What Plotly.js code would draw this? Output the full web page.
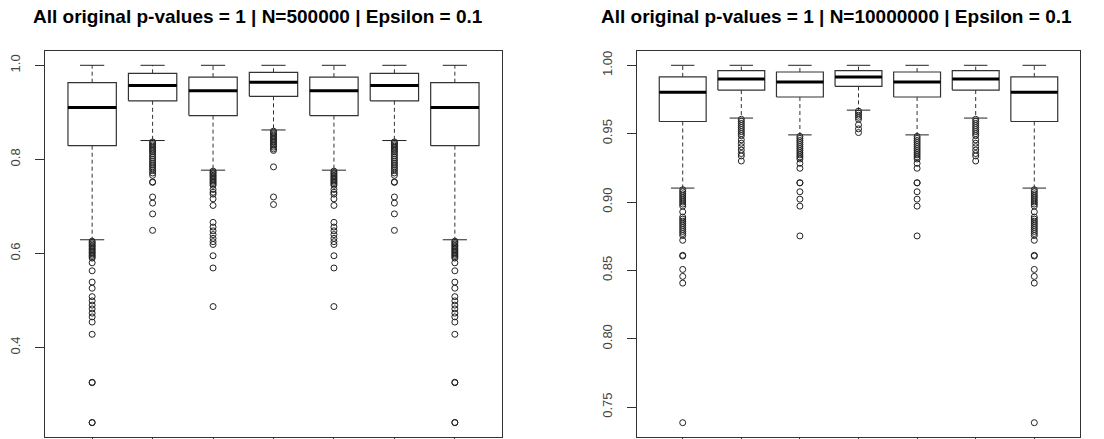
<!DOCTYPE html>
<html>
<head>
<meta charset="utf-8">
<script src="https://cdn.plot.ly/plotly-3.0.1.min.js"></script>
<style>
  html, body { margin: 0; padding: 0; background: #fff; }
  #chart { width: 1104px; height: 439px; }
</style>
</head>
<body>
<div id="chart"></div>
<script>
// Group positions along the x axis (seven groups per panel)
const positions = [1, 2, 3, 4, 5, 6, 7];

// ---- Panel A: N = 500000 ----
const titleA = "All original p-values = 1 | N=500000 | Epsilon = 0.1";
const upperA  = [1.000, 1.000, 1.000, 1.000, 1.000, 1.000, 1.000];
const q3A     = [0.963, 0.983, 0.975, 0.985, 0.975, 0.983, 0.963];
const medianA = [0.910, 0.957, 0.946, 0.964, 0.946, 0.957, 0.910];
const q1A     = [0.829, 0.9245, 0.893, 0.934, 0.893, 0.9245, 0.829];
const lowerA  = [0.629, 0.840, 0.777, 0.8625, 0.777, 0.840, 0.629];

const outA1 = [0.626, 0.623, 0.620, 0.617, 0.614, 0.611, 0.608, 0.605, 0.602, 0.599,
               0.596, 0.593, 0.590, 0.580, 0.563, 0.539, 0.526, 0.508, 0.499, 0.490,
               0.482, 0.473, 0.465, 0.454, 0.428, 0.326, 0.325, 0.240, 0.2405];
const outA2 = [0.837, 0.834, 0.831, 0.828, 0.825, 0.822, 0.819, 0.816, 0.812, 0.808,
               0.804, 0.800, 0.796, 0.792, 0.788, 0.784, 0.780, 0.776, 0.771, 0.766,
               0.752, 0.751, 0.720, 0.707, 0.684, 0.649];
const outA3 = [0.775, 0.772, 0.769, 0.766, 0.763, 0.760, 0.757, 0.754, 0.751, 0.748,
               0.745, 0.736, 0.730, 0.726, 0.716, 0.702, 0.666, 0.656, 0.648, 0.640,
               0.632, 0.625, 0.619, 0.595, 0.569, 0.487];
const outA4 = [0.860, 0.857, 0.854, 0.851, 0.848, 0.845, 0.842, 0.839, 0.836, 0.833,
               0.830, 0.826, 0.822, 0.819, 0.784, 0.720, 0.704];
const outA5 = [0.775, 0.772, 0.769, 0.766, 0.763, 0.760, 0.757, 0.754, 0.751, 0.748,
               0.745, 0.736, 0.730, 0.726, 0.716, 0.702, 0.666, 0.656, 0.648, 0.640,
               0.632, 0.625, 0.619, 0.595, 0.569, 0.487];
const outA6 = [0.837, 0.834, 0.831, 0.828, 0.825, 0.822, 0.819, 0.816, 0.812, 0.808,
               0.804, 0.800, 0.796, 0.792, 0.788, 0.784, 0.780, 0.776, 0.771, 0.766,
               0.752, 0.751, 0.720, 0.707, 0.684, 0.649];
const outA7 = [0.626, 0.623, 0.620, 0.617, 0.614, 0.611, 0.608, 0.605, 0.602, 0.599,
               0.596, 0.593, 0.590, 0.580, 0.563, 0.539, 0.526, 0.508, 0.499, 0.490,
               0.482, 0.473, 0.465, 0.454, 0.428, 0.326, 0.325, 0.240, 0.2405];
const yTicksA = [0.4, 0.6, 0.8, 1.0];
const yTickTextA = ["0.4", "0.6", "0.8", "1.0"];

// ---- Panel B: N = 10000000 ----
const titleB = "All original p-values = 1 | N=10000000 | Epsilon = 0.1";
const upperB  = [1.000, 1.000, 1.000, 1.000, 1.000, 1.000, 1.000];
const q3B     = [0.9915, 0.9961, 0.9951, 0.9961, 0.9951, 0.9961, 0.9915];
const medianB = [0.9802, 0.9900, 0.9878, 0.9915, 0.9878, 0.9900, 0.9802];
const q1B     = [0.9589, 0.9819, 0.9768, 0.9846, 0.9768, 0.9819, 0.9589];
const lowerB  = [0.9102, 0.9614, 0.9491, 0.9672, 0.9491, 0.9614, 0.9102];

const outB1 = [0.909, 0.9075, 0.906, 0.9045, 0.903, 0.9015, 0.900, 0.8985, 0.897, 0.8928,
               0.889, 0.8875, 0.886, 0.8845, 0.883, 0.8815, 0.880, 0.8785, 0.877, 0.8755,
               0.872, 0.861, 0.8605, 0.8507, 0.8456, 0.8407, 0.7386];
const outB2 = [0.9605, 0.959, 0.9575, 0.956, 0.9545, 0.953, 0.9515, 0.950, 0.9485,
               0.9455, 0.943, 0.9405, 0.938, 0.9355, 0.9337, 0.930];
const outB3 = [0.948, 0.9465, 0.945, 0.9435, 0.942, 0.9405, 0.939, 0.9375, 0.936, 0.9345,
               0.933, 0.9315, 0.9283, 0.9247, 0.9141, 0.9140, 0.9075, 0.9021, 0.897, 0.8752];
const outB4 = [0.9665, 0.965, 0.9635, 0.962, 0.9605, 0.9565, 0.9535, 0.9508];
const outB5 = [0.948, 0.9465, 0.945, 0.9435, 0.942, 0.9405, 0.939, 0.9375, 0.936, 0.9345,
               0.933, 0.9315, 0.9283, 0.9247, 0.9141, 0.9140, 0.9075, 0.9021, 0.897, 0.8752];
const outB6 = [0.9605, 0.959, 0.9575, 0.956, 0.9545, 0.953, 0.9515, 0.950, 0.9485,
               0.9455, 0.943, 0.9405, 0.938, 0.9355, 0.9337, 0.930];
const outB7 = [0.909, 0.9075, 0.906, 0.9045, 0.903, 0.9015, 0.900, 0.8985, 0.897, 0.8928,
               0.889, 0.8875, 0.886, 0.8845, 0.883, 0.8815, 0.880, 0.8785, 0.877, 0.8755,
               0.872, 0.861, 0.8605, 0.8507, 0.8456, 0.8407, 0.7386];
const yTicksB = [0.75, 0.80, 0.85, 0.90, 0.95, 1.00];
const yTickTextB = ["0.75", "0.80", "0.85", "0.90", "0.95", "1.00"];

// Box geometry in axis units (box width 0.8, staple width 0.4)
const BOX_HALF = 0.4;
const STAPLE_HALF = 0.2;
const INK = "#222";

function boxplotTraces(stats, outliers, xa, ya) {
  const boxX = [], boxY = [], medX = [], medY = [];
  const whX = [], whY = [], stX = [], stY = [];
  const olX = [], olY = [];
  positions.forEach((p, i) => {
    const l = p - BOX_HALF, r = p + BOX_HALF;
    boxX.push(l, r, r, l, l, null);
    boxY.push(stats.q1[i], stats.q1[i], stats.q3[i], stats.q3[i], stats.q1[i], null);
    medX.push(l, r, null);
    medY.push(stats.median[i], stats.median[i], null);
    whX.push(p, p, null, p, p, null);
    whY.push(stats.q3[i], stats.upper[i], null, stats.q1[i], stats.lower[i], null);
    stX.push(p - STAPLE_HALF, p + STAPLE_HALF, null, p - STAPLE_HALF, p + STAPLE_HALF, null);
    stY.push(stats.upper[i], stats.upper[i], null, stats.lower[i], stats.lower[i], null);
    outliers[i].forEach(v => { olX.push(p); olY.push(v); });
  });
  const common = { xaxis: xa, yaxis: ya, showlegend: false, hoverinfo: "skip", type: "scatter" };
  return [
    Object.assign({ x: whX, y: whY, mode: "lines", line: { color: "#333", width: 1, dash: "4px,3px" } }, common),
    Object.assign({ x: stX, y: stY, mode: "lines", line: { color: INK, width: 1 } }, common),
    Object.assign({ x: boxX, y: boxY, mode: "lines", line: { color: "#333", width: 1.2 } }, common),
    Object.assign({ x: medX, y: medY, mode: "lines", line: { color: "#000", width: 3 } }, common),
    Object.assign({ x: olX, y: olY, mode: "markers",
      marker: { symbol: "circle-open", size: 6, color: INK, line: { width: 1 } } }, common)
  ];
}

const traces = [].concat(
  boxplotTraces({ upper: upperA, q3: q3A, median: medianA, q1: q1A, lower: lowerA },
                [outA1, outA2, outA3, outA4, outA5, outA6, outA7], "x", "y"),
  boxplotTraces({ upper: upperB, q3: q3B, median: medianB, q1: q1B, lower: lowerB },
                [outB1, outB2, outB3, outB4, outB5, outB6, outB7], "x2", "y2")
);

// Axis ranges padded 4% beyond the data, as in base graphics
function padRange(lo, hi) { const d = (hi - lo) * 0.04; return [lo - d, hi + d]; }
const allA = [].concat(outA1, outA2, outA3, outA4, outA5, outA6, outA7, upperA);
const allB = [].concat(outB1, outB2, outB3, outB4, outB5, outB6, outB7, upperB);
const yRangeA = padRange(Math.min(...allA), Math.max(...allA));
const yRangeB = padRange(Math.min(...allB), Math.max(...allB));
const xRange = padRange(0.5, positions.length + 0.5);

const W = 1104, H = 439;
const plotTop = 51, plotBottom = 437;
const yDomain = [1 - plotBottom / H, 1 - plotTop / H];

const xBase = {
  range: xRange, tickvals: positions, showticklabels: false, ticks: "outside",
  ticklen: 9, tickwidth: 1, tickcolor: "#333", showgrid: false, zeroline: false,
  showline: true, mirror: true, linecolor: "#333", linewidth: 1, fixedrange: true
};
const yBase = {
  ticks: "outside", ticklen: 9, tickwidth: 1, tickcolor: "#333", tickangle: -90,
  tickfont: { family: "Liberation Sans, Arial, sans-serif", size: 13, color: "#444" },
  showgrid: false, zeroline: false, showline: true, mirror: true,
  linecolor: "#333", linewidth: 1, automargin: false, ticklabelstandoff: 10, fixedrange: true
};

const titleFont = { family: "Liberation Sans, Arial, sans-serif", size: 19, color: "#000", weight: "bold" };

const layout = {
  width: W, height: H,
  margin: { l: 0, r: 0, t: 0, b: 0 },
  paper_bgcolor: "#fff", plot_bgcolor: "#fff",
  showlegend: false,
  xaxis: Object.assign({}, xBase, { domain: [45 / W, 502 / W], anchor: "y" }),
  yaxis: Object.assign({}, yBase, { domain: yDomain, range: yRangeA, tickvals: yTicksA, ticktext: yTickTextA, anchor: "x" }),
  xaxis2: Object.assign({}, xBase, { domain: [637 / W, 1080 / W], anchor: "y2" }),
  yaxis2: Object.assign({}, yBase, { domain: yDomain, range: yRangeB, tickvals: yTicksB, ticktext: yTickTextB, anchor: "x2" }),
  annotations: [
    { text: "<b>" + titleA + "</b>", xref: "paper", yref: "paper", x: 257.5 / W, y: 1 - 16.5 / H,
      xanchor: "center", yanchor: "middle", showarrow: false, font: titleFont },
    { text: "<b>" + titleB + "</b>", xref: "paper", yref: "paper", x: 836 / W, y: 1 - 16.5 / H,
      xanchor: "center", yanchor: "middle", showarrow: false, font: titleFont }
  ]
};

Plotly.newPlot("chart", traces, layout, { displayModeBar: false, staticPlot: true });
</script>
</body>
</html>
